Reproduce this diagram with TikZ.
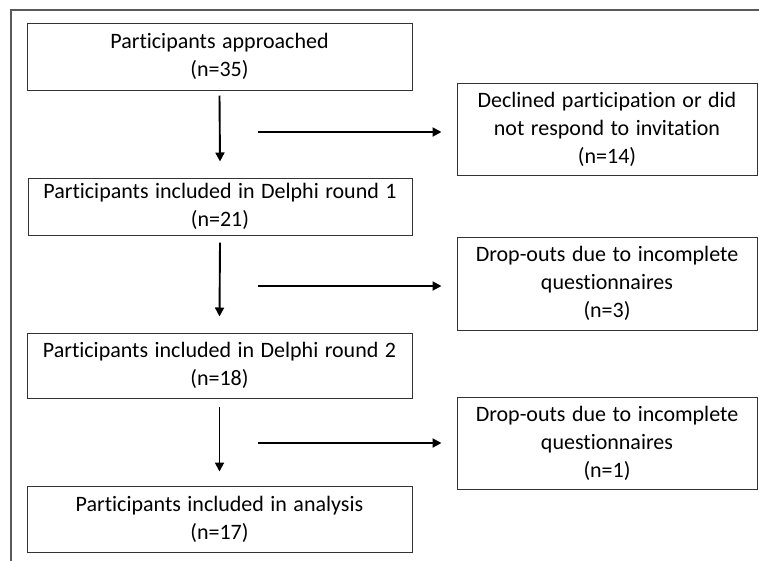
\documentclass[tikz,border=0pt]{standalone}
\usepackage{fontspec}
\setmainfont[Ligatures=NoCommon,WordSpace=1.3]{Carlito}
\usetikzlibrary{arrows.meta,calc}
\begin{document}
\begin{tikzpicture}[x=1pt,y=-1pt,
  box/.style={draw=black!80,line width=1pt,align=center,inner sep=0pt,
    font=\fontsize{22}{28}\selectfont,text=black},
  arr/.style={line width=1.9pt,-{Triangle[length=9pt,width=9pt]}}]
\useasboundingbox (0,0) rectangle (759,560);
\draw[black!65,line width=1.2pt] (11,561) -- (11,10) -- (760,10);
\node[box,minimum width=385pt,minimum height=67pt] (b1) at (219.5,56.5) {Participants approached\\(n=35)};
\node[box,minimum width=384pt,minimum height=57pt] (b2) at (220,206.5) {Participants included in Delphi round 1\\(n=21)};
\node[box,minimum width=385pt,minimum height=65pt] (b3) at (219.5,365.5) {Participants included in Delphi round 2\\(n=18)};
\node[box,minimum width=385pt,minimum height=66pt] (b4) at (219.5,519) {Participants included in analysis\\(n=17)};
\node[box,minimum width=300pt,minimum height=92pt] (r1) at (607,129) {Declined participation or did\\not respond to invitation\\(n=14)};
\node[box,minimum width=300pt,minimum height=93pt] (r2) at (607,283.5) {Drop-outs due to incomplete\\questionnaires\\(n=3)};
\node[box,minimum width=300pt,minimum height=92pt] (r3) at (607,443) {Drop-outs due to incomplete\\questionnaires\\(n=1)};
\coordinate (h1) at (258,132);
\coordinate (h2) at (258,286);
\coordinate (h3) at (258,443);
\draw[arr] ([yshift=-5pt]b1.south) -- ([yshift=16pt]b2.north);
\draw[arr] ([yshift=-7pt]b2.south) -- ([yshift=16pt]b3.north);
\draw[arr] ([yshift=-8pt]b3.south) -- ([yshift=14pt]b4.north);
\draw[arr] (h1) -- ([xshift=-15pt]h1 -| r1.west);
\draw[arr] (h2) -- ([xshift=-15pt]h2 -| r2.west);
\draw[arr] (h3) -- ([xshift=-15pt]h3 -| r3.west);
\end{tikzpicture}
\end{document}
